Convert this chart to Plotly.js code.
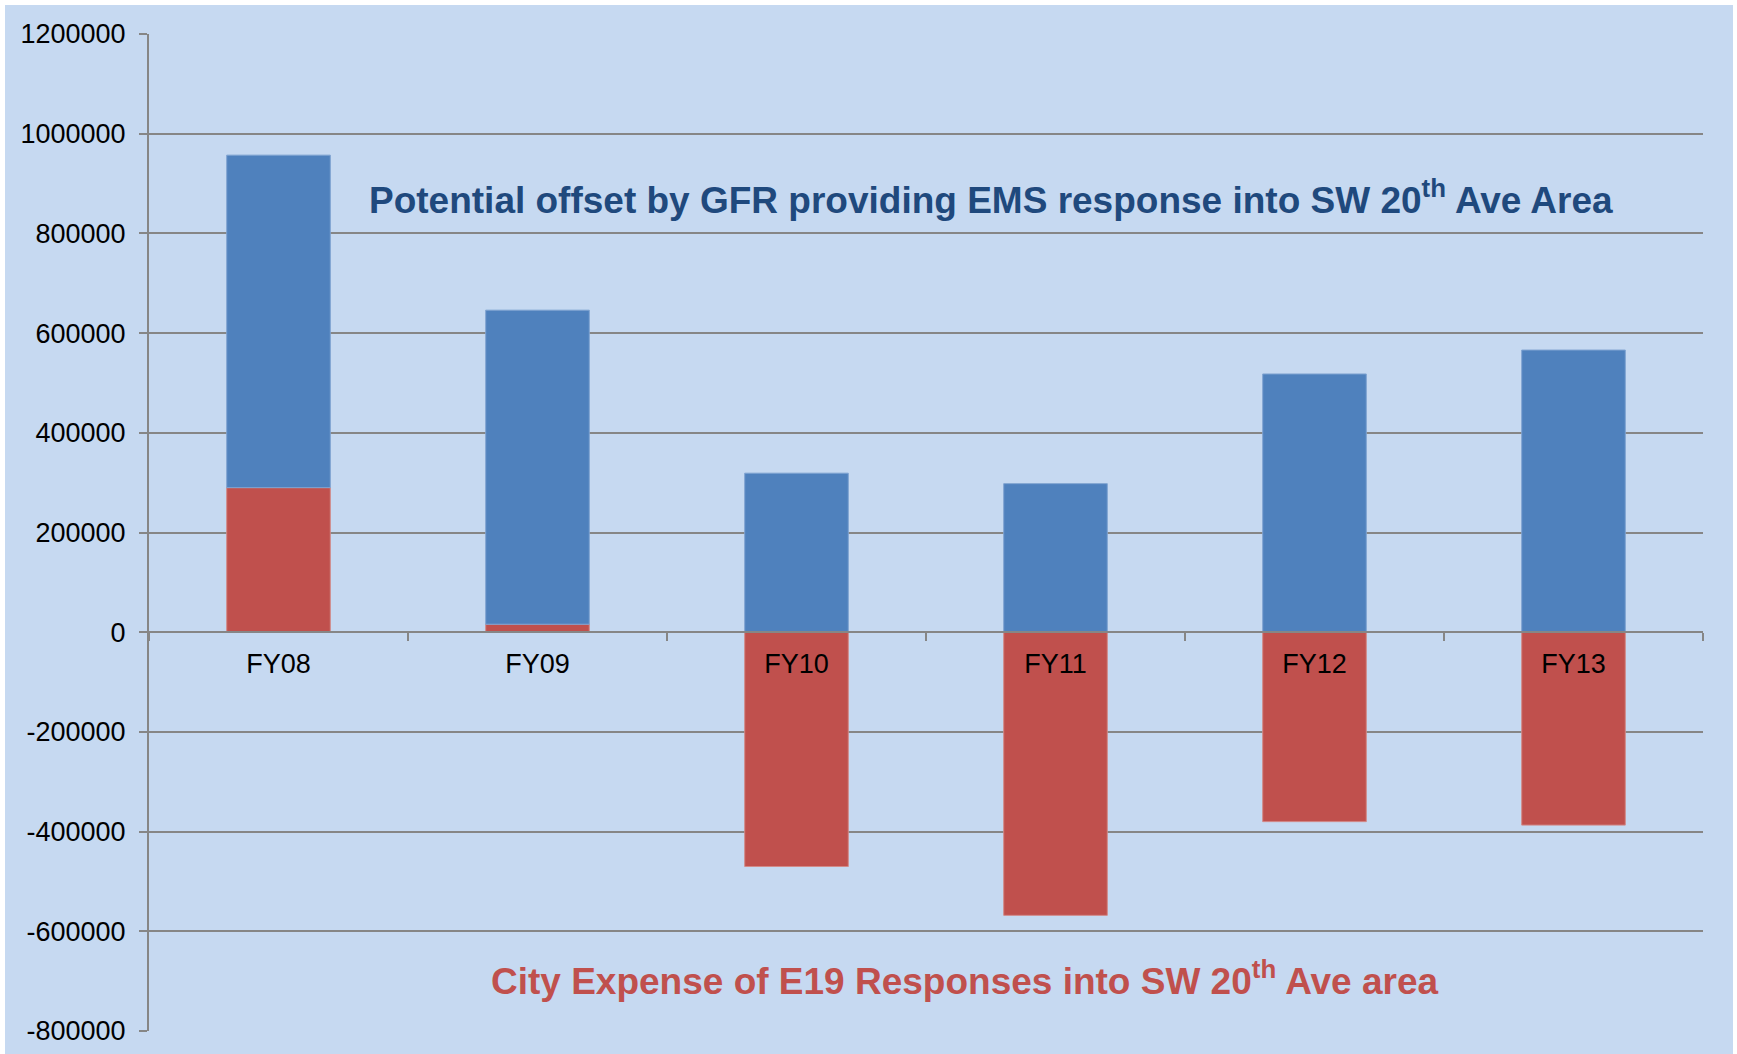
<!DOCTYPE html>
<html>
<head>
<meta charset="utf-8">
<script src="https://cdn.plot.ly/plotly-3.0.1.min.js"></script>
<style>
  body { margin: 0; background: #ffffff; }
  #chart { position: absolute; left: 5px; top: 5px; width: 1728px; height: 1049px; }
</style>
</head>
<body>
<div id="chart"></div>
<script>
// Data
var years = ['FY08', 'FY09', 'FY10', 'FY11', 'FY12', 'FY13'];
var cityExpense = [290000, 16000, -470000, -568000, -380000, -387000];
var gfrOffset = [667000, 630000, 319000, 298000, 518000, 566000];
var yTicks = [-800000, -600000, -400000, -200000, 0, 200000, 400000, 600000, 800000, 1000000, 1200000];

var gridColor = '#868686';

// plain hyphen for negatives, no thousands separators
var yTickText = yTicks.map(function (v) { return String(v); });

// red series sits on the axis, blue stacks on top of it
var traceRed = {
  x: years,
  y: cityExpense,
  type: 'bar',
  name: 'City Expense',
  marker: { color: '#C0504D', line: { color: '#d28a88', width: 1 } },
  hoverinfo: 'y'
};

var traceBlue = {
  x: years,
  y: gfrOffset,
  type: 'bar',
  name: 'Potential offset',
  marker: { color: '#4F81BD', line: { color: '#7fa3d1', width: 1 } },
  hoverinfo: 'y'
};

var data = [traceRed, traceBlue];

var layout = {
  barmode: 'relative',
  bargap: 0.6,
  showlegend: false,
  paper_bgcolor: '#C6D9F1',
  plot_bgcolor: '#C6D9F1',
  margin: { l: 144, r: 30, t: 29, b: 23 },
  font: { family: 'Liberation Sans, Arial, sans-serif', color: '#000000', size: 27 },
  xaxis: {
    anchor: 'free',
    position: 0.4,
    showline: true,
    linecolor: gridColor,
    linewidth: 2,
    ticks: 'outside',
    tickson: 'boundaries',
    ticklen: 8,
    tickwidth: 2,
    tickcolor: gridColor,
    ticklabelstandoff: 7,
    showgrid: false,
    tickfont: { size: 27, color: '#000000' }
  },
  yaxis: {
    range: [-800000, 1200000],
    tickvals: yTicks,
    ticktext: yTickText,
    showline: true,
    linecolor: gridColor,
    linewidth: 2,
    ticks: 'outside',
    ticklen: 8,
    tickwidth: 2,
    tickcolor: gridColor,
    ticklabelstandoff: 8,
    showgrid: true,
    gridcolor: gridColor,
    gridwidth: 2,
    zeroline: false,
    tickfont: { size: 27, color: '#000000' }
  },
  annotations: [
    {
      text: '<b>Potential offset by GFR providing EMS response into SW 20<sup>th</sup> Ave Area</b>',
      xref: 'paper', yref: 'paper',
      x: 0.542, y: 0.862,
      showarrow: false,
      font: { family: 'Liberation Sans, Arial, sans-serif', size: 37, color: '#1F497D' }
    },
    {
      text: '<b>City Expense of E19 Responses into SW 20<sup>th</sup> Ave area</b>',
      xref: 'paper', yref: 'paper',
      x: 0.525, y: 0.027,
      showarrow: false,
      font: { family: 'Liberation Sans, Arial, sans-serif', size: 37, color: '#C0504D' }
    }
  ]
};

Plotly.newPlot('chart', data, layout, { displayModeBar: false });
</script>
</body>
</html>
